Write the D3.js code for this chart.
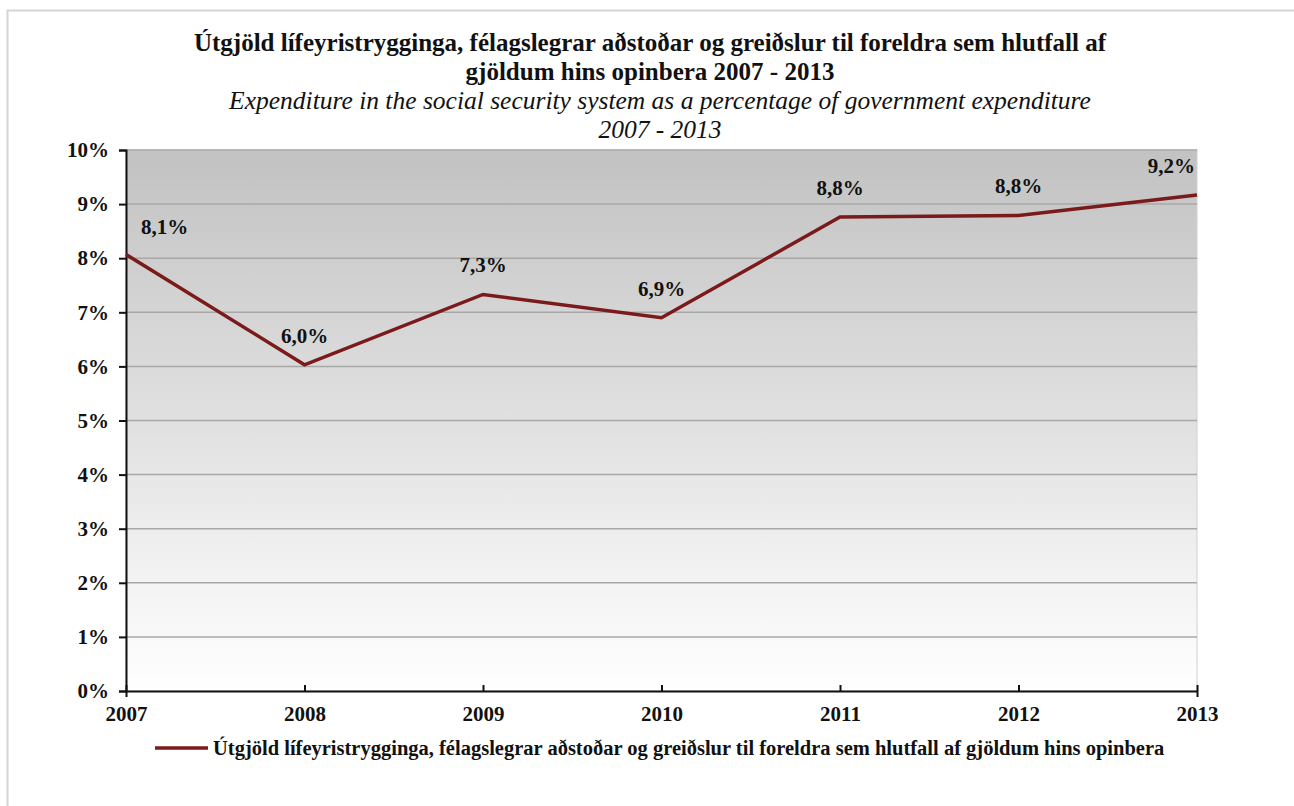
<!DOCTYPE html>
<html>
<head>
<meta charset="utf-8">
<script src="https://cdn.jsdelivr.net/npm/d3@7"></script>
<style>
  body { margin: 0; background: #fff; }
  svg text { font-family: "Liberation Serif", "Times New Roman", serif; fill: #111; }
</style>
</head>
<body>
<svg id="chart"></svg>
<script>
'use strict';

var years = ["2007", "2008", "2009", "2010", "2011", "2012", "2013"];
var values = [8.07, 6.03, 7.33, 6.90, 8.76, 8.79, 9.17];
var valueLabels = ["8,1%", "6,0%", "7,3%", "6,9%", "8,8%", "8,8%", "9,2%"];
var yTicks = [0, 1, 2, 3, 4, 5, 6, 7, 8, 9, 10];
var titleLines = ["Útgjöld lífeyristrygginga, félagslegrar aðstoðar og greiðslur til foreldra sem hlutfall af",
                  "gjöldum hins opinbera 2007 - 2013"];
var subtitleLines = ["Expenditure in the social security system as a percentage of government expenditure",
                     "2007 - 2013"];
var seriesName = "Útgjöld lífeyristrygginga, félagslegrar aðstoðar og greiðslur til foreldra sem hlutfall af gjöldum hins opinbera";

var width = 1294,
    height = 806;

var serif = "'Liberation Serif', 'Times New Roman', serif";

var margin = {left: 126, right: 97, top: 150, bottom: 115};
var plotW = width - margin.left - margin.right,
    plotH = height - margin.top - margin.bottom;

var svg = d3.select("#chart")
    .attr("width", width)
    .attr("height", height);

// outer frame
svg.append("rect")
    .attr("x", 7.5).attr("y", 10.5)
    .attr("width", width).attr("height", height)
    .attr("fill", "none")
    .attr("stroke", "#d4d4d4")
    .attr("stroke-width", 2);

// titles
svg.selectAll(".title")
    .data(titleLines)
  .enter().append("text")
    .attr("class", "title")
    .attr("x", 650)
    .attr("y", function(d, i) { return 51 + i * 29; })
    .attr("text-anchor", "middle")
    .style("font-family", serif)
    .style("font-size", "25px")
    .style("font-weight", "bold")
    .text(function(d) { return d; });

svg.selectAll(".subtitle")
    .data(subtitleLines)
  .enter().append("text")
    .attr("class", "subtitle")
    .attr("x", 660)
    .attr("y", function(d, i) { return 109 + i * 29; })
    .attr("text-anchor", "middle")
    .style("font-family", serif)
    .style("font-size", "25.5px")
    .style("font-style", "italic")
    .text(function(d) { return d; });

var x = d3.scalePoint()
    .domain(years)
    .range([0, plotW]);

var y = d3.scaleLinear()
    .domain([0, 10])
    .range([plotH, 0]);

var g = svg.append("g")
    .attr("transform", "translate(" + margin.left + "," + margin.top + ")");

// gradient background
var defs = svg.append("defs");
var grad = defs.append("linearGradient")
    .attr("id", "bg")
    .attr("x1", 0).attr("y1", 0).attr("x2", 0).attr("y2", 1);
grad.append("stop").attr("offset", "0%").attr("stop-color", "#c2c2c2");
grad.append("stop").attr("offset", "100%").attr("stop-color", "#ffffff");

g.append("rect")
    .attr("width", plotW)
    .attr("height", plotH)
    .attr("fill", "url(#bg)")
    .attr("stroke", "#d0d0d0");

// gridlines
g.selectAll(".grid")
    .data(yTicks.filter(function(d) { return d > 0; }))
  .enter().append("line")
    .attr("class", "grid")
    .attr("x1", 0).attr("x2", plotW)
    .attr("y1", function(d) { return y(d); })
    .attr("y2", function(d) { return y(d); })
    .attr("stroke", "#a8a8a8")
    .attr("stroke-width", 1.5);

// axes
var yAxis = g.append("g")
    .call(d3.axisLeft(y).tickValues(yTicks).tickSize(7).tickPadding(10)
      .tickFormat(function(d) { return d + "%"; }));

var xAxis = g.append("g")
    .attr("transform", "translate(0," + plotH + ")")
    .call(d3.axisBottom(x).tickSize(6).tickPadding(6));

[yAxis, xAxis].forEach(function(a) {
  a.select(".domain").attr("stroke", "#111").attr("stroke-width", 2);
  a.selectAll(".tick line").attr("stroke", "#111").attr("stroke-width", 2);
  a.selectAll(".tick text")
    .style("font-family", serif)
    .style("font-size", "21px")
    .style("font-weight", "bold")
    .attr("fill", "#111");
});
xAxis.selectAll(".tick text").attr("dy", "0.85em");
// x ticks drawn upward in original
xAxis.selectAll(".tick line").attr("y2", -6);

// line
var line = d3.line()
    .x(function(d, i) { return x(years[i]); })
    .y(function(d) { return y(d); });

g.append("path")
    .datum(values)
    .attr("fill", "none")
    .attr("stroke", "#7b1a1a")
    .attr("stroke-width", 3.5)
    .attr("stroke-linejoin", "miter")
    .attr("d", line);

// data labels
g.selectAll(".lbl")
    .data(values)
  .enter().append("text")
    .attr("class", "lbl")
    .attr("x", function(d, i) {
      if (i === 0) return x(years[i]) + 15;
      if (i === years.length - 1) return x(years[i]) - 2;
      return x(years[i]);
    })
    .attr("y", function(d, i) { return y(d) - (i === 0 ? 20 : 22); })
    .attr("text-anchor", function(d, i) {
      if (i === 0) return "start";
      if (i === years.length - 1) return "end";
      return "middle";
    })
    .style("font-family", serif)
    .style("font-size", "21px")
    .style("font-weight", "bold")
    .text(function(d, i) { return valueLabels[i]; });

// legend
var leg = svg.append("g").attr("transform", "translate(155,748)");
leg.append("line")
    .attr("x1", 0).attr("x2", 53)
    .attr("stroke", "#7b1a1a")
    .attr("stroke-width", 3.5);
leg.append("text")
    .attr("x", 58)
    .attr("y", 7)
    .style("font-family", serif)
    .style("font-size", "20.5px")
    .style("font-weight", "bold")
    .text(seriesName);
</script>
</body>
</html>
